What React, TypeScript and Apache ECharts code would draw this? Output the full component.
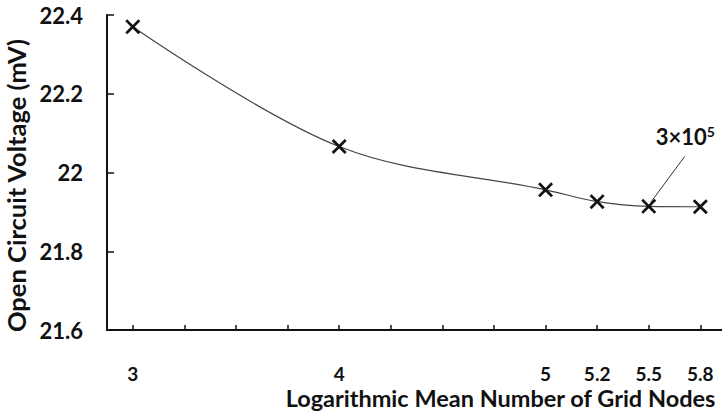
import React, { useEffect, useRef } from "react";
import * as echarts from "echarts";

// Data
const xLabels = ["3", "4", "5", "5.2", "5.5", "5.8"];
const xTickIndex = [0, 4, 8, 9, 10, 11]; // position of each category on the evenly ticked axis
const allTicks = [0, 1, 2, 3, 4, 5, 6, 7, 8, 9, 10, 11];
const voltage = [22.37, 22.066, 21.956, 21.926, 21.914, 21.913];
const yTicks = [21.6, 21.8, 22.0, 22.2, 22.4];
const annotatedIndex = 4;
const annotationText = "3×10{sup|5}";

const FONT = "Lato, 'Open Sans', sans-serif";
const X_MARK =
  "path://M0,1.8L1.8,0L7,5.2L12.2,0L14,1.8L8.8,7L14,12.2L12.2,14L7,8.8L1.8,14L0,12.2L5.2,7Z";

export default function App() {
  const ref = useRef<HTMLDivElement>(null);
  useEffect(() => {
    if (!ref.current) return;
    const chart = echarts.init(ref.current, undefined, { renderer: "svg" });
    const labelMap: Record<number, string> = {};
    xTickIndex.forEach((p, i) => (labelMap[p] = xLabels[i]));
    chart.setOption({
      animation: false,
      backgroundColor: "#ffffff",
      grid: {
        left: 107,
        right: 0,
        top: 15,
        bottom: 85,
        containLabel: false,
        outerBoundsMode: "none",
      },
      xAxis: {
        type: "value",
        min: -0.5,
        max: 11.42,
        splitLine: { show: false },
        axisLine: { onZero: false, lineStyle: { color: "#111", width: 2 } },
        axisTick: {
          inside: true,
          length: 5,
          lineStyle: { color: "#111", width: 1.5 },
          customValues: allTicks,
        },
        axisLabel: {
          customValues: xTickIndex,
          formatter: (v: number) => labelMap[v] ?? "",
          margin: 34,
          fontFamily: FONT,
          fontWeight: "bold",
          fontSize: 19,
          color: "#111",
        },
        name: "Logarithmic Mean Number of Grid Nodes",
        nameLocation: "middle",
        nameGap: 56,
        nameMoveOverlap: false,
        nameTextStyle: {
          fontFamily: FONT,
          fontWeight: "bold",
          fontSize: 23.5,
          color: "#111",
          padding: [0, 0, 0, 172],
        },
      },
      yAxis: {
        type: "value",
        min: 21.6,
        max: 22.4,
        interval: 0.2,
        splitLine: { show: false },
        axisLine: { show: true, onZero: false, lineStyle: { color: "#111", width: 2 } },
        axisTick: { show: true, inside: true, length: 7, lineStyle: { color: "#111", width: 1.5 } },
        axisLabel: {
          margin: 24,
          fontFamily: FONT,
          fontWeight: "bold",
          fontSize: 22,
          color: "#111",
          formatter: (v: number) => {
            const m = yTicks.find((t) => Math.abs(t - v) < 1e-6);
            return m === undefined ? "" : String(Number(m.toFixed(1)));
          },
        },
        name: "Open Circuit Voltage (mV)",
        nameLocation: "middle",
        nameGap: 78,
        nameMoveOverlap: false,
        nameTextStyle: {
          fontFamily: FONT,
          fontWeight: "bold",
          fontSize: 25.5,
          color: "#111",
          padding: [0, 26, 0, 0],
        },
      },
      series: [
        {
          type: "line",
          data: xTickIndex.map((x, i) => [x, voltage[i]]),
          smooth: 0.35,
          symbol: X_MARK,
          symbolSize: 15,
          showAllSymbol: true,
          lineStyle: { color: "#444", width: 1.2 },
          itemStyle: { color: "#111" },
          z: 3,
        },
      ],
    });
    const p = chart.convertToPixel({ gridIndex: 0 }, [
      xTickIndex[annotatedIndex],
      voltage[annotatedIndex],
    ]) as number[];
    chart.setOption({
      graphic: [
        {
          type: "line",
          shape: { x1: p[0] + 2, y1: p[1] - 4, x2: p[0] + 36, y2: p[1] - 50 },
          style: { stroke: "#333", lineWidth: 1 },
          z: 5,
        },
        {
          type: "text",
          x: p[0] + 7,
          y: p[1] - 82,
          style: {
            text: annotationText,
            fontFamily: FONT,
            fontWeight: "bold",
            fontSize: 22,
            fill: "#111",
            rich: {
              sup: {
                fontFamily: FONT,
                fontWeight: "bold",
                fontSize: 14,
                fill: "#111",
                verticalAlign: "top",
                padding: [0, 0, 10, 0],
              },
            },
          },
          z: 5,
        },
      ],
    });
    return () => chart.dispose();
  }, []);
  return <div ref={ref} style={{ width: 722, height: 415, position: "absolute", left: 0, top: 0 }} />;
}
